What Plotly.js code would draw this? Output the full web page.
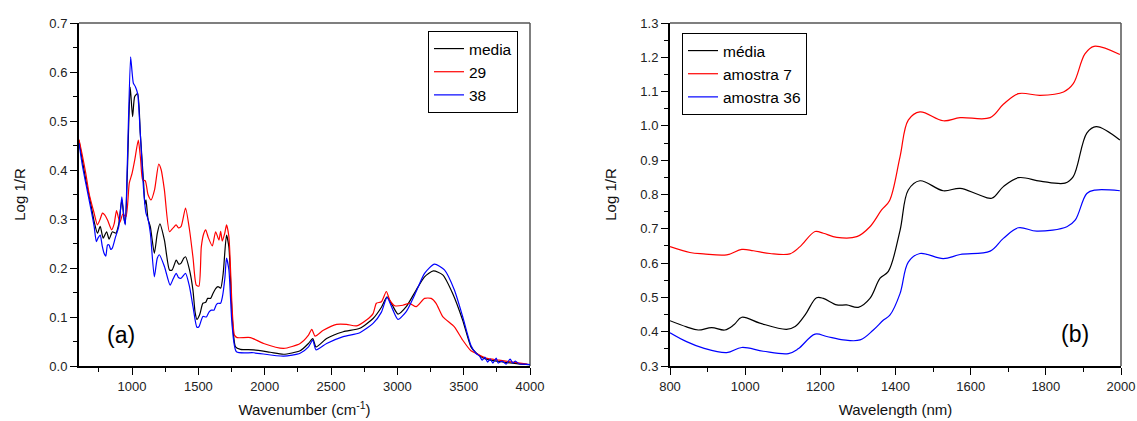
<!DOCTYPE html>
<html>
<head>
<meta charset="utf-8">
<script src="https://cdn.plot.ly/plotly-3.0.1.min.js"></script>
<style>html,body{margin:0;padding:0;background:#fff;}#chart{width:1137px;height:421px;}</style>
</head>
<body>
<div id="chart"></div>
<script>
// ---------- Panel (a): FTIR, Log 1/R vs wavenumber ----------
const wnMedia = [600,625,651,688,714,739,760,782,808,827,852,878,900,923,940,949,965,986,1004,1020,1042,1062,1087,1097,1105,1120,1138,1168,1190,1210,1244,1282,1302,1333,1352,1370,1390,1403,1433,1459,1475,1489,1510,1534,1555,1570,1592,1610,1630,1648,1668,1687,1712,1730,1755,1780,1817,1917,2042,2142,2267,2330,2362,2387,2467,2592,2717,2817,2880,2922,2962,3005,3067,3142,3205,3272,3342,3417,3492,3555,3592,3650,3700,3750,3800,3900,4000];
const absMedia = [0.46,0.42,0.38,0.332,0.295,0.271,0.285,0.261,0.274,0.259,0.274,0.271,0.29,0.339,0.30,0.29,0.40,0.569,0.509,0.55,0.556,0.475,0.373,0.33,0.339,0.30,0.284,0.230,0.27,0.290,0.257,0.196,0.196,0.216,0.208,0.210,0.220,0.223,0.196,0.155,0.11,0.095,0.105,0.128,0.13,0.138,0.138,0.148,0.158,0.162,0.159,0.189,0.267,0.243,0.101,0.039,0.034,0.033,0.028,0.024,0.031,0.046,0.056,0.039,0.056,0.070,0.077,0.097,0.12,0.141,0.124,0.106,0.121,0.155,0.182,0.194,0.186,0.148,0.094,0.039,0.027,0.016,0.012,0.010,0.008,0.005,0.003];

const wn29 = [600,625,651,676,714,739,760,777,795,815,846,865,883,908,930,954,979,1000,1020,1047,1065,1080,1100,1120,1143,1170,1201,1220,1244,1282,1310,1332,1350,1370,1403,1433,1460,1484,1504,1522,1540,1555,1575,1605,1630,1655,1668,1680,1698,1712,1730,1755,1772,1792,1892,1992,2142,2267,2330,2355,2380,2442,2542,2617,2692,2767,2817,2842,2880,2917,2942,2980,3042,3092,3142,3205,3255,3292,3342,3430,3492,3555,3592,3667,3767,3842,3980];
const abs29 = [0.462,0.43,0.393,0.352,0.312,0.288,0.300,0.312,0.308,0.298,0.278,0.29,0.317,0.293,0.31,0.305,0.373,0.393,0.42,0.461,0.42,0.380,0.378,0.35,0.339,0.36,0.412,0.40,0.359,0.274,0.282,0.288,0.282,0.285,0.322,0.278,0.22,0.165,0.163,0.243,0.27,0.278,0.262,0.245,0.274,0.257,0.275,0.255,0.27,0.288,0.264,0.114,0.063,0.058,0.058,0.046,0.036,0.046,0.063,0.075,0.061,0.073,0.085,0.085,0.082,0.094,0.107,0.128,0.131,0.152,0.135,0.123,0.124,0.128,0.121,0.138,0.138,0.128,0.101,0.080,0.053,0.031,0.026,0.016,0.012,0.009,0.004];

const wn38 = [600,625,651,690,714,731,745,760,775,789,802,815,827,839,850,873,900,923,940,949,965,989,1000,1010,1025,1042,1062,1087,1105,1120,1138,1168,1190,1206,1244,1287,1310,1333,1352,1370,1403,1433,1460,1489,1504,1534,1560,1580,1597,1617,1635,1648,1667,1681,1700,1712,1730,1755,1787,1917,2142,2267,2330,2362,2387,2467,2592,2717,2817,2880,2922,2967,3005,3067,3142,3205,3280,3355,3430,3492,3555,3592,3620,3640,3660,3680,3700,3720,3745,3760,3790,3820,3850,3870,3890,3920,3960,4000];
const abs38 = [0.455,0.41,0.373,0.32,0.285,0.254,0.262,0.267,0.245,0.230,0.224,0.247,0.247,0.238,0.24,0.261,0.285,0.345,0.30,0.288,0.42,0.631,0.60,0.577,0.57,0.556,0.475,0.36,0.312,0.30,0.271,0.182,0.22,0.227,0.203,0.165,0.178,0.189,0.18,0.179,0.189,0.162,0.12,0.079,0.080,0.101,0.10,0.11,0.114,0.114,0.125,0.128,0.128,0.141,0.18,0.220,0.196,0.080,0.029,0.027,0.020,0.026,0.039,0.053,0.033,0.046,0.060,0.068,0.087,0.11,0.140,0.114,0.095,0.111,0.152,0.189,0.208,0.196,0.155,0.101,0.042,0.026,0.020,0.012,0.018,0.008,0.014,0.006,0.016,0.006,0.010,0.004,0.014,0.006,0.010,0.004,0.004,0.003];

// ---------- Panel (b): NIR, Log 1/R vs wavelength ----------
const wlMedia = [800,844,875,911,946,970,991,1039,1110,1133,1160,1190,1208,1244,1270,1301,1332,1359,1381,1412,1434,1465,1527,1572,1620,1656,1687,1727,1785,1851,1873,1909,1934,1997];
const nirMedia = [0.432,0.414,0.405,0.412,0.405,0.42,0.442,0.425,0.407,0.415,0.45,0.499,0.497,0.478,0.478,0.471,0.497,0.556,0.576,0.695,0.813,0.840,0.811,0.818,0.80,0.789,0.823,0.849,0.839,0.833,0.852,0.979,0.998,0.959];

const wl7 = [800,853,889,951,991,1022,1066,1119,1146,1186,1208,1244,1297,1332,1363,1384,1412,1434,1465,1527,1572,1652,1687,1727,1785,1847,1873,1904,1928,1997];
const nir7 = [0.648,0.631,0.627,0.624,0.640,0.636,0.628,0.627,0.648,0.692,0.687,0.675,0.677,0.706,0.755,0.782,0.910,1.017,1.041,1.015,1.024,1.024,1.063,1.094,1.089,1.099,1.123,1.210,1.232,1.208];

const wl36 = [800,844,889,951,991,1048,1115,1141,1186,1217,1261,1306,1341,1368,1385,1412,1434,1465,1527,1572,1652,1687,1727,1776,1856,1878,1909,1931,1997];
const nir36 = [0.397,0.371,0.352,0.339,0.354,0.343,0.336,0.350,0.393,0.386,0.376,0.376,0.405,0.434,0.448,0.511,0.603,0.628,0.613,0.625,0.635,0.672,0.703,0.693,0.706,0.725,0.803,0.813,0.811];

const namesA = ['media','29','38'];
const namesB = ['média','amostra 7','amostra 36'];
const colors = ['#000000','#ff0000','#0000ff'];

const FONT = '"Liberation Sans", Arial, Helvetica, sans-serif';

function tr(x, y, name, color, xa, ya, leg, sm) {
  return {x: x, y: y, name: name, type: 'scatter', mode: 'lines',
    line: {color: color, width: 1.2, shape: 'spline', smoothing: sm},
    xaxis: xa, yaxis: ya, legend: leg};
}

const data = [
  tr(wnMedia, absMedia, namesA[0], colors[0], 'x', 'y', 'legend', 0.6),
  tr(wn29, abs29, namesA[1], colors[1], 'x', 'y', 'legend', 0.6),
  tr(wn38, abs38, namesA[2], colors[2], 'x', 'y', 'legend', 0.6),
  tr(wlMedia, nirMedia, namesB[0], colors[0], 'x2', 'y2', 'legend2', 1.0),
  tr(wl7, nir7, namesB[1], colors[1], 'x2', 'y2', 'legend2', 1.0),
  tr(wl36, nir36, namesB[2], colors[2], 'x2', 'y2', 'legend2', 1.0)
];

const W = 1137, H = 421;
const axBase = {
  showline: true, linecolor: '#000', linewidth: 2,
  ticks: 'outside', ticklen: 7, tickwidth: 1, tickcolor: '#000',
  showgrid: false, zeroline: false,
  tickfont: {family: FONT, size: 13, color: '#222'}
};
function ax(extra) { return Object.assign(JSON.parse(JSON.stringify(axBase)), extra); }
const titleFont = {family: FONT, size: 15, color: '#111'};
const minorTick = (d) => ({dtick: d, ticklen: 4, tickcolor: '#000', ticks: 'outside'});

const layout = {
  width: W, height: H,
  margin: {l: 0, r: 0, t: 0, b: 0},
  paper_bgcolor: '#fff', plot_bgcolor: '#fff',
  font: {family: FONT, color: '#111'},
  showlegend: true,
  xaxis: ax({domain: [79/W, 530/W], range: [600, 4000], tickvals: [1000,1500,2000,2500,3000,3500,4000],
    minor: minorTick(250), anchor: 'y',
    title: {text: 'Wavenumber (cm<sup>-1</sup>)', standoff: 12, font: titleFont}}),
  yaxis: ax({domain: [1-366/H, 1-23/H], range: [0, 0.7], dtick: 0.1, tickformat: '.1f',
    minor: minorTick(0.05), anchor: 'x',
    title: {text: 'Log 1/R', standoff: 20, font: titleFont}}),
  xaxis2: ax({domain: [670/W, 1121/W], range: [800, 2000], dtick: 200,
    minor: minorTick(100), anchor: 'y2',
    title: {text: 'Wavelength (nm)', standoff: 12, font: titleFont}}),
  yaxis2: ax({domain: [1-366/H, 1-23/H], range: [0.3, 1.3], dtick: 0.1, tickformat: '.1f',
    minor: minorTick(0.05), anchor: 'x2',
    title: {text: 'Log 1/R', standoff: 20, font: titleFont}}),
  legend: {x: 428/W, y: 1-31/H, xanchor: 'left', yanchor: 'top', bgcolor: '#fff',
    bordercolor: '#000', borderwidth: 1, font: {family: FONT, size: 15.5, color: '#000'},
    tracegroupgap: 0, itemwidth: 30},
  legend2: {x: 682/W, y: 1-33/H, xanchor: 'left', yanchor: 'top', bgcolor: '#fff',
    bordercolor: '#000', borderwidth: 1, font: {family: FONT, size: 15.5, color: '#000'},
    tracegroupgap: 0, itemwidth: 30},
  shapes: [
    {type: 'line', xref: 'x domain', yref: 'y domain', x0: 0, x1: 1, y0: 1, y1: 1, line: {color: '#555', width: 1.5}, layer: 'below'},
    {type: 'line', xref: 'x domain', yref: 'y domain', x0: 1, x1: 1, y0: 0, y1: 1, line: {color: '#555', width: 1.5}, layer: 'below'},
    {type: 'line', xref: 'x2 domain', yref: 'y2 domain', x0: 0, x1: 1, y0: 1, y1: 1, line: {color: '#555', width: 1.5}, layer: 'below'},
    {type: 'line', xref: 'x2 domain', yref: 'y2 domain', x0: 1, x1: 1, y0: 0, y1: 1, line: {color: '#555', width: 1.5}, layer: 'below'}
  ],
  annotations: [
    {text: '(a)', xref: 'paper', yref: 'paper', x: 121/W, y: 1-335/H, xanchor: 'center', yanchor: 'middle',
      showarrow: false, font: {family: FONT, size: 23, color: '#000'}},
    {text: '(b)', xref: 'paper', yref: 'paper', x: 1075/W, y: 1-334/H, xanchor: 'center', yanchor: 'middle',
      showarrow: false, font: {family: FONT, size: 23, color: '#000'}}
  ]
};

Plotly.newPlot('chart', data, layout, {displayModeBar: false, staticPlot: true});
</script>
</body>
</html>
